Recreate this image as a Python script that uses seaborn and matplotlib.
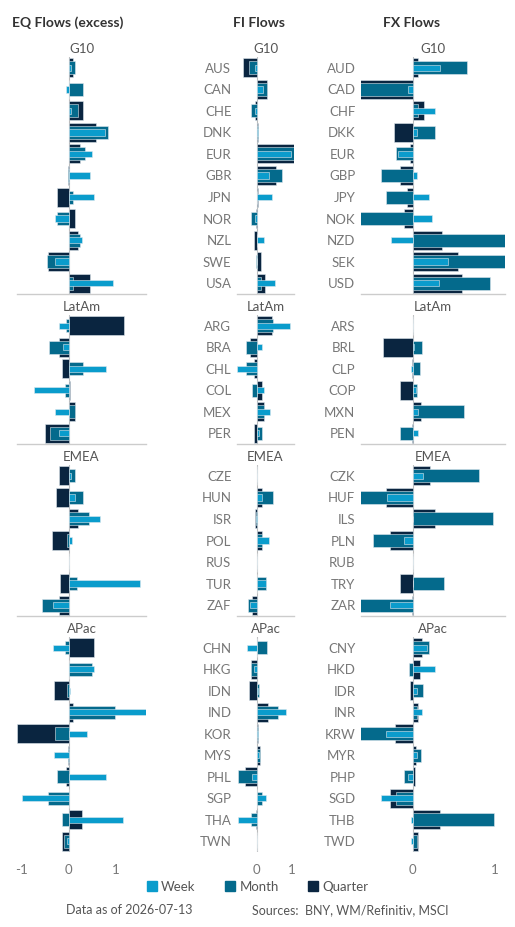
import numpy as np
import pandas as pd
import matplotlib
matplotlib.use("Agg")
import matplotlib.pyplot as plt
import seaborn as sns
from matplotlib.patches import Patch

sns.set_theme(style="white")
plt.rcParams['font.family'] = ['Lato', 'DejaVu Sans']

groups = ["G10", "LatAm", "EMEA", "APac"]

# ---- Country / currency labels ----
fi_g10 = ["AUS", "CAN", "CHE", "DNK", "EUR", "GBR", "JPN", "NOR", "NZL", "SWE", "USA"]
fi_latam = ["ARG", "BRA", "CHL", "COL", "MEX", "PER"]
fi_emea = ["CZE", "HUN", "ISR", "POL", "RUS", "TUR", "ZAF"]
fi_apac = ["CHN", "HKG", "IDN", "IND", "KOR", "MYS", "PHL", "SGP", "THA", "TWN"]
fx_g10 = ["AUD", "CAD", "CHF", "DKK", "EUR", "GBP", "JPY", "NOK", "NZD", "SEK", "USD"]
fx_latam = ["ARS", "BRL", "CLP", "COP", "MXN", "PEN"]
fx_emea = ["CZK", "HUF", "ILS", "PLN", "RUB", "TRY", "ZAR"]
fx_apac = ["CNY", "HKD", "IDR", "INR", "KRW", "MYR", "PHP", "SGD", "THB", "TWD"]

# ---- EQ flows (excess) ----
eq_g10_q = [0.09, 0.01, 0.30, 0.58, 0.25, -0.02, -0.24, 0.14, 0.20, -0.43, 0.46]
eq_g10_m = [0.14, 0.31, 0.20, 0.85, 0.35, -0.02, 0.09, -0.24, 0.24, -0.46, 0.09]
eq_g10_w = [0.05, -0.06, 0.06, 0.78, 0.50, 0.46, 0.55, -0.30, 0.29, -0.29, 0.94]
eq_latam_q = [1.19, -0.21, -0.15, 0.03, 0.13, -0.50]
eq_latam_m = [-0.06, -0.42, 0.31, -0.07, 0.13, -0.40]
eq_latam_w = [-0.21, -0.11, 0.80, -0.73, -0.30, -0.20]
eq_emea_q = [-0.20, -0.26, 0.21, -0.35, 0.0, -0.19, -0.21]
eq_emea_m = [0.13, 0.31, 0.44, -0.04, 0.0, 0.17, -0.57]
eq_emea_w = [0.06, 0.13, 0.68, 0.07, 0.0, 1.53, -0.33]
eq_apac_q = [0.54, 0.0, -0.32, 0.09, -1.10, -0.01, -0.06, 0.0, 0.29, -0.14]
eq_apac_m = [-0.07, 0.50, -0.04, 0.99, -0.29, -0.02, -0.24, -0.43, -0.14, -0.10]
eq_apac_w = [-0.34, 0.55, 0.04, 1.67, 0.39, -0.32, 0.79, -0.99, 1.17, -0.04]

# ---- FI flows ----
fi_g10_q = [-0.37, 0.29, -0.05, 0.04, 1.10, 0.54, 0.05, -0.03, -0.06, 0.11, 0.24]
fi_g10_m = [-0.20, 0.29, -0.16, 0.04, 1.10, 0.71, 0.0, -0.16, 0.0, -0.03, 0.11]
fi_g10_w = [-0.05, 0.19, -0.05, 0.05, 0.97, 0.36, 0.42, -0.05, 0.22, 0.02, 0.51]
fi_latam_q = [0.44, -0.18, -0.06, 0.14, 0.21, -0.06]
fi_latam_m = [0.47, -0.31, -0.31, -0.12, 0.21, 0.16]
fi_latam_w = [0.94, 0.14, -0.56, 0.21, 0.37, 0.08]
fi_emea_q = [0.0, 0.14, -0.05, 0.14, 0.0, 0.0, -0.12]
fi_emea_m = [0.0, 0.45, -0.03, 0.14, 0.0, 0.27, -0.25]
fi_emea_w = [0.0, 0.16, -0.03, 0.34, 0.0, 0.25, -0.18]
fi_apac_q = [0.0, -0.16, -0.21, 0.31, 0.03, 0.10, -0.32, 0.0, -0.03, 0.0]
fi_apac_m = [0.29, -0.16, 0.08, 0.60, 0.03, 0.10, -0.53, 0.14, -0.16, 0.0]
fi_apac_w = [-0.28, -0.06, 0.03, 0.83, 0.03, 0.07, -0.12, 0.27, -0.53, 0.0]

# ---- FX flows ----
fx_g10_q = [0.07, -0.65, 0.14, -0.23, -0.03, -0.15, -0.07, -0.11, 0.36, 0.56, 0.61]
fx_g10_m = [0.67, -0.65, 0.07, 0.28, -0.20, -0.38, -0.32, -0.65, 1.20, 1.20, 0.95]
fx_g10_w = [0.33, -0.05, 0.28, 0.05, -0.18, 0.05, 0.20, 0.24, -0.26, 0.43, 0.32]
fx_latam_q = [0.0, -0.36, -0.01, -0.15, 0.10, -0.01]
fx_latam_m = [0.0, 0.11, 0.09, 0.05, 0.63, -0.15]
fx_latam_w = [0.0, 0.02, -0.02, 0.04, 0.07, 0.07]
fx_emea_q = [0.21, -0.33, 0.28, -0.27, 0.0, -0.15, -0.01]
fx_emea_m = [0.81, -0.65, 0.98, -0.48, 0.0, 0.38, -0.65]
fx_emea_w = [0.13, -0.31, 0.01, -0.10, 0.0, 0.0, -0.27]
fx_apac_q = [0.11, 0.09, -0.03, 0.07, -0.21, 0.04, 0.03, -0.28, 0.34, 0.07]
fx_apac_m = [0.20, -0.04, 0.13, 0.05, -0.65, 0.10, -0.10, -0.20, 1.00, 0.05]
fx_apac_w = [0.18, 0.27, 0.05, 0.11, -0.33, 0.05, -0.05, -0.38, -0.02, -0.02]

labels = [fi_g10, fi_latam, fi_emea, fi_apac]
fx_labels = [fx_g10, fx_latam, fx_emea, fx_apac]
eq = [(eq_g10_q, eq_g10_m, eq_g10_w), (eq_latam_q, eq_latam_m, eq_latam_w),
      (eq_emea_q, eq_emea_m, eq_emea_w), (eq_apac_q, eq_apac_m, eq_apac_w)]
fi = [(fi_g10_q, fi_g10_m, fi_g10_w), (fi_latam_q, fi_latam_m, fi_latam_w),
      (fi_emea_q, fi_emea_m, fi_emea_w), (fi_apac_q, fi_apac_m, fi_apac_w)]
fx = [(fx_g10_q, fx_g10_m, fx_g10_w), (fx_latam_q, fx_latam_m, fx_latam_w),
      (fx_emea_q, fx_emea_m, fx_emea_w), (fx_apac_q, fx_apac_m, fx_apac_w)]

C_Q, C_M, C_W = "#0a2540", "#046a8c", "#0a9ccc"
GRAY = "#777777"

W, H = 515, 927
fig = plt.figure(figsize=(W / 100, H / 100), dpi=100)

rows_px = [(57, 294), (315, 444), (465, 616), (637, 852)]
cols_px = [(17, 146, (-1.1, 1.65)), (237, 294, (-0.55, 1.05)), (361, 505, (-0.63, 1.13))]
data_cols = [eq, fi, fx]

for ci, (x0, x1, xlim) in enumerate(cols_px):
    for ri, (y0, y1) in enumerate(rows_px):
        ax = fig.add_axes([x0 / W, 1 - y1 / H, (x1 - x0) / W, (y1 - y0) / H])
        cats = labels[ri] if ci < 2 else fx_labels[ri]
        q, m, w = data_cols[ci][ri]
        ax.axvline(0, color="#bbbbbb", lw=0.8, zorder=0)
        for vals, col, wd in [(q, C_Q, 0.88), (m, C_M, 0.6), (w, C_W, 0.3)]:
            df = pd.DataFrame({"cat": cats, "v": vals})
            sns.barplot(data=df, x="v", y="cat", order=cats, orient="h", color=col,
                        width=wd, saturation=1, edgecolor="#dfe8ee", linewidth=0.4,
                        errorbar=None, ax=ax)
        ax.set_xlim(*xlim)
        ax.set_ylim(len(cats) - 0.5, -0.5)
        ax.set_xlabel("")
        ax.set_ylabel("")
        ax.set_title(groups[ri], fontsize=9.5, color="#555555", pad=3)
        for s in ["top", "left", "right"]:
            ax.spines[s].set_visible(False)
        if ri < 3:
            ax.spines["bottom"].set_color("#cccccc")
            ax.spines["bottom"].set_linewidth(1)
            ax.set_xticks([])
        else:
            ax.spines["bottom"].set_visible(False)
            ax.set_xticks([-1, 0, 1] if ci == 0 else [0, 1])
            ax.set_xticklabels(["-1", "0", "1"] if ci == 0 else ["0", "1"])
            ax.tick_params(axis="x", length=0, pad=9, labelsize=9.5, labelcolor=GRAY)
        if ci == 0:
            ax.set_yticks([])
        else:
            ax.tick_params(axis="y", length=0, pad=4, labelsize=9.5, labelcolor=GRAY)
        ax.set_facecolor("none")

fig.text(68 / W, 1 - 23 / H, "EQ Flows (excess)", ha="center", va="center",
         fontsize=10, fontweight="bold", color="#333333")
fig.text(259 / W, 1 - 23 / H, "FI Flows", ha="center", va="center",
         fontsize=10, fontweight="bold", color="#333333")
fig.text(412 / W, 1 - 23 / H, "FX Flows", ha="center", va="center",
         fontsize=10, fontweight="bold", color="#333333")

handles = [Patch(color=C_W, label="Week"), Patch(color=C_M, label="Month"),
           Patch(color=C_Q, label="Quarter")]
leg = fig.legend(handles=handles, loc="center", bbox_to_anchor=(0.5, 1 - 887 / H), ncol=3,
                 frameon=False, fontsize=9.5, handlelength=0.8, handleheight=0.8,
                 handletextpad=0.3, columnspacing=2.2)
for t in leg.get_texts():
    t.set_color("#555555")

fig.text(129 / W, 1 - 910 / H, "Data as of 2026-07-13", ha="center", va="center",
         fontsize=9, color="#555555")
fig.text(350 / W, 1 - 910 / H, "Sources:  BNY, WM/Refinitiv, MSCI", ha="center", va="center",
         fontsize=9, color="#555555")

fig.savefig("out.png", dpi=100)
